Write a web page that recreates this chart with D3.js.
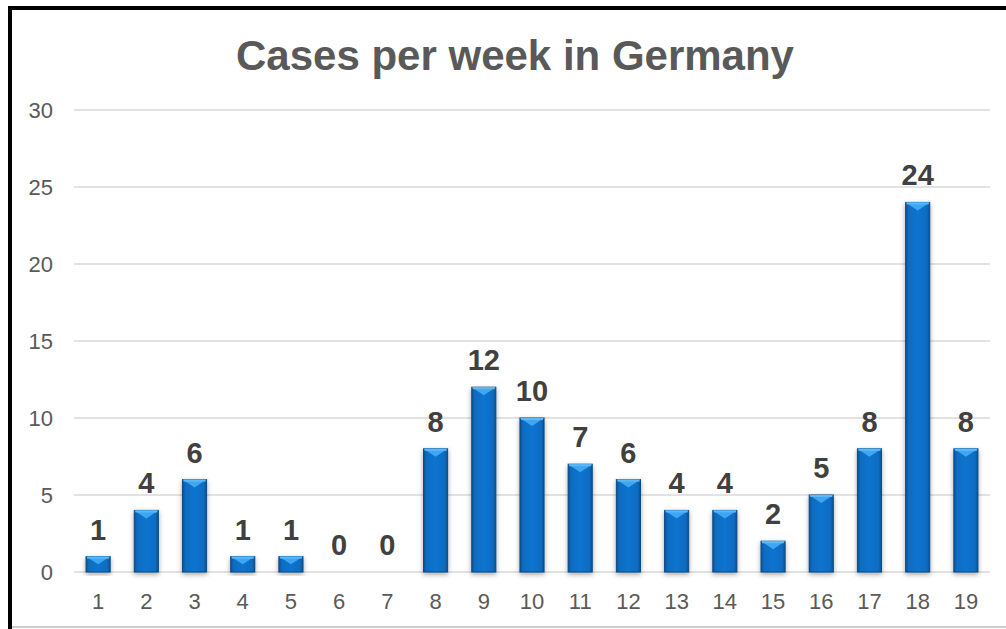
<!DOCTYPE html>
<html>
<head>
<meta charset="utf-8">
<script src="https://cdn.jsdelivr.net/npm/d3@7"></script>
<style>
  body { margin: 0; background: #fff; }
  svg { display: block; font-family: "Liberation Sans", Arial, sans-serif; }
</style>
</head>
<body>
<div id="chart"></div>
<script>
// data
var weeks = ["1","2","3","4","5","6","7","8","9","10","11","12","13","14","15","16","17","18","19"];
var cases = [1, 4, 6, 1, 1, 0, 0, 8, 12, 10, 7, 6, 4, 4, 2, 5, 8, 24, 8];
var yTicks = [0, 5, 10, 15, 20, 25, 30];

var W = 1006, H = 629;
var margin = {left: 74, right: 16, top: 110, bottom: 57};

var data = weeks.map(function(w, i) { return {week: w, value: cases[i]}; });

var svg = d3.select("#chart").append("svg")
    .attr("width", W)
    .attr("height", H);

var defs = svg.append("defs");

// horizontal shading for the bars
var grad = defs.append("linearGradient").attr("id", "barGrad")
    .attr("x1", "0%").attr("x2", "100%").attr("y1", "0%").attr("y2", "0%");
grad.append("stop").attr("offset", "0%").attr("stop-color", "#0a4f8c");
grad.append("stop").attr("offset", "12%").attr("stop-color", "#0b6cc2");
grad.append("stop").attr("offset", "50%").attr("stop-color", "#0e74cf");
grad.append("stop").attr("offset", "88%").attr("stop-color", "#0b6cc2");
grad.append("stop").attr("offset", "100%").attr("stop-color", "#0a4f8c");

var shadow = defs.append("filter").attr("id", "shadow")
    .attr("x", "-50%").attr("y", "-20%").attr("width", "200%").attr("height", "140%");
shadow.append("feDropShadow").attr("dx", 0).attr("dy", 2).attr("stdDeviation", 2.5)
    .attr("flood-color", "#000").attr("flood-opacity", 0.35);

// frame (cropped on right and bottom as in the picture)
svg.append("rect").attr("x", 10).attr("y", 8).attr("width", W).attr("height", H + 20)
    .attr("fill", "none").attr("stroke", "#000").attr("stroke-width", 4);
svg.append("line").attr("x1", 12).attr("x2", W).attr("y1", 627).attr("y2", 627)
    .attr("stroke", "#bdbdbd").attr("stroke-width", 1.5);

var x = d3.scaleBand()
    .domain(weeks)
    .range([margin.left, W - margin.right])
    .paddingInner(0.5)
    .paddingOuter(0.25);

var y = d3.scaleLinear()
    .domain([0, 30])
    .range([H - margin.bottom, margin.top]);

// title
svg.append("text")
    .attr("x", 515).attr("y", 70)
    .attr("text-anchor", "middle")
    .attr("font-size", 42).attr("font-weight", "bold")
    .attr("fill", "#595959")
    .text("Cases per week in Germany");

// gridlines
svg.append("g").selectAll("line")
    .data(yTicks)
    .enter().append("line")
    .attr("x1", margin.left).attr("x2", W - margin.right)
    .attr("y1", function(d) { return y(d); })
    .attr("y2", function(d) { return y(d); })
    .attr("stroke", "#d9d9d9").attr("stroke-width", 1.5);

// y axis
var yAxis = svg.append("g")
    .attr("transform", "translate(" + (margin.left - 21) + ",0)")
    .call(d3.axisLeft(y).tickValues(yTicks).tickSize(0).tickPadding(0));
yAxis.select(".domain").remove();
yAxis.selectAll("text").attr("font-size", 22).attr("fill", "#595959")
    .attr("font-family", "Liberation Sans, Arial, sans-serif");

// x axis
var xAxis = svg.append("g")
    .attr("transform", "translate(0," + (H - margin.bottom) + ")")
    .call(d3.axisBottom(x).tickSize(0).tickPadding(21));
xAxis.select(".domain").remove();
xAxis.selectAll("text").attr("font-size", 22).attr("fill", "#595959")
    .attr("font-family", "Liberation Sans, Arial, sans-serif");

// bars
var bars = svg.append("g").selectAll("g.bar")
    .data(data.filter(function(d) { return d.value > 0; }))
    .enter().append("g")
    .attr("class", "bar");

bars.append("rect")
    .attr("x", function(d) { return x(d.week); })
    .attr("y", function(d) { return y(d.value); })
    .attr("width", x.bandwidth())
    .attr("height", function(d) { return y(0) - y(d.value); })
    .attr("fill", "url(#barGrad)")
    .attr("stroke", "#0a4a85").attr("stroke-width", 1)
    .attr("filter", "url(#shadow)");

// top bevel
bars.append("path")
    .attr("d", function(d) {
        var x0 = x(d.week), w = x.bandwidth(), t = y(d.value);
        var bev = Math.min(8, (y(0) - t) / 2);
        return "M" + x0 + "," + t + "L" + (x0 + w) + "," + t +
               "L" + (x0 + w / 2) + "," + (t + bev) + "Z";
    })
    .attr("fill", "#3fa6f2");

bars.append("rect")
    .attr("x", function(d) { return x(d.week) + 1; })
    .attr("y", function(d) { return y(d.value); })
    .attr("width", x.bandwidth() - 2)
    .attr("height", 2)
    .attr("fill", "#5db8f7");

// value labels
svg.append("g").selectAll("text")
    .data(data)
    .enter().append("text")
    .attr("x", function(d) { return x(d.week) + x.bandwidth() / 2; })
    .attr("y", function(d) { return y(d.value) - 17; })
    .attr("text-anchor", "middle")
    .attr("font-size", 29).attr("font-weight", "bold")
    .attr("fill", "#404040")
    .text(function(d) { return d.value; });
</script>
</body>
</html>
